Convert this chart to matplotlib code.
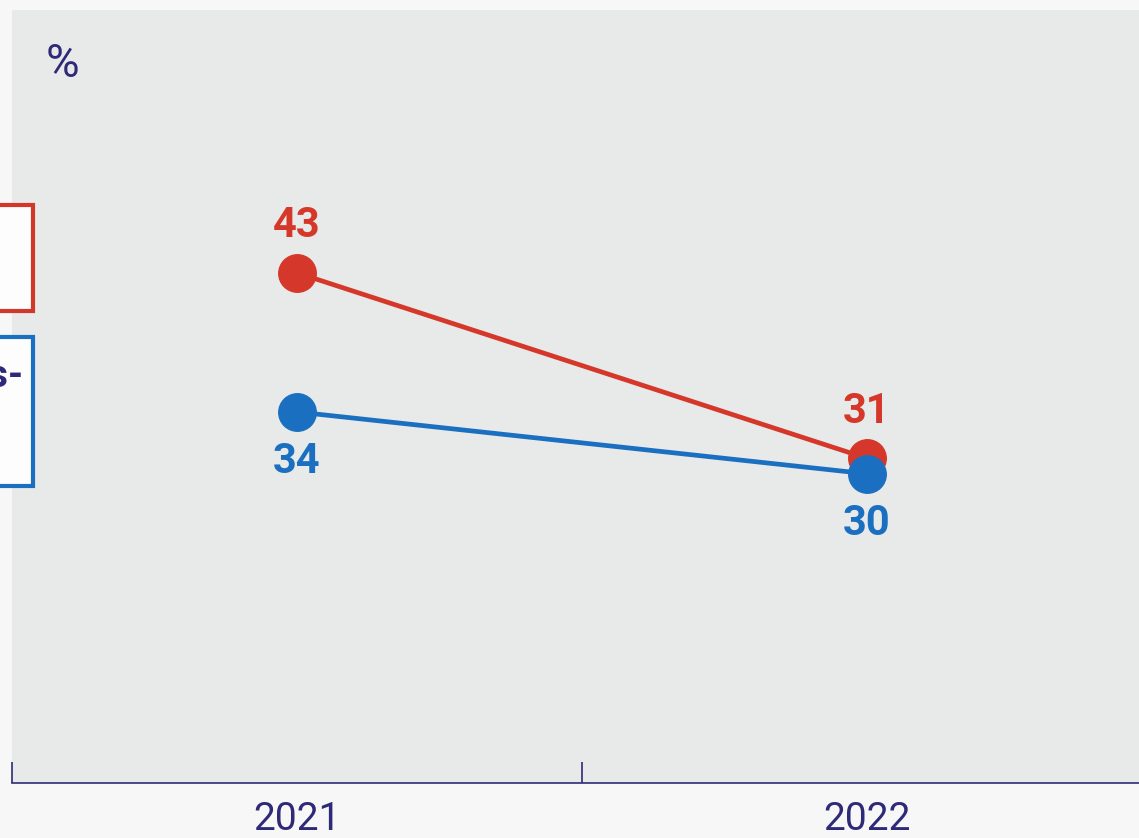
import matplotlib
matplotlib.use("Agg")
import matplotlib.pyplot as plt
from matplotlib.patches import Rectangle

years = ["2021", "2022"]
red_vals = [43, 31]
blue_vals = [34, 30]

RED = "#d5382a"
BLUE = "#1b6fc1"
NAVY = "#2f2a78"
PLOT_BG = "#e7eae8"
FIG_BG = "#f7f7f7"

W, H = 1139, 838
fig = plt.figure(figsize=(W / 100, H / 100), dpi=100, facecolor=FIG_BG)
ax = fig.add_axes([12 / W, (H - 783) / H, (W - 12) / W, (783 - 10) / H])
ax.set_facecolor(PLOT_BG)

x = list(range(len(years)))
ax.plot(x, red_vals, "-o", color=RED, lw=3.4, markersize=27, zorder=3)
ax.plot(x, blue_vals, "-o", color=BLUE, lw=3.4, markersize=27, zorder=4)

for xi, v in zip(x, red_vals):
    ax.annotate(str(v), (xi, v), xytext=(0, 34), textcoords="offset points",
                ha="center", va="center", color=RED, fontsize=30,
                fontweight="bold", family="Roboto")
for xi, v in zip(x, blue_vals):
    ax.annotate(str(v), (xi, v), xytext=(0, -36), textcoords="offset points",
                ha="center", va="center", color=BLUE, fontsize=30,
                fontweight="bold", family="Roboto")

ax.set_yticks([])
ax.set_xticks([-0.5, 0.5, 1.5])
ax.set_xticklabels([])
ax.tick_params(axis="x", which="major", direction="in", length=15,
               width=1.2, color=NAVY)
ax.set_xticks(x, minor=True)
ax.set_xticklabels(years, minor=True, fontsize=28, color=NAVY,
                   family="Roboto")
ax.tick_params(axis="x", which="minor", length=0, pad=13)
ax.set_ylim(10, 60)
ax.set_xlim(-0.5, -0.5 + (W - 12) / 570)
for side in ["left", "right", "top"]:
    ax.spines[side].set_visible(False)
ax.spines["bottom"].set_color(NAVY)
ax.spines["bottom"].set_linewidth(1.2)

fig.text(62 / W, 1 - 64 / H, "%", ha="center", va="center", fontsize=33,
         color=NAVY, family="Roboto")

# legend boxes cut off at the left edge
ov = fig.add_axes([0, 0, 1, 1], facecolor="none")
ov.set_xlim(0, W)
ov.set_ylim(H, 0)
ov.axis("off")
ov.add_patch(Rectangle((-20, 205), 53, 106, facecolor="#fdfdfd",
                       edgecolor="#d2382a", lw=3))
ov.add_patch(Rectangle((-20, 337), 53, 149, facecolor="#fdfdfd",
                       edgecolor="#1b6fc1", lw=3))
ov.text(23, 376, "s-", ha="right", va="center", fontsize=28,
        fontweight="bold", color=NAVY, family="Roboto")

fig.savefig("out.png", dpi=100, facecolor=FIG_BG)
